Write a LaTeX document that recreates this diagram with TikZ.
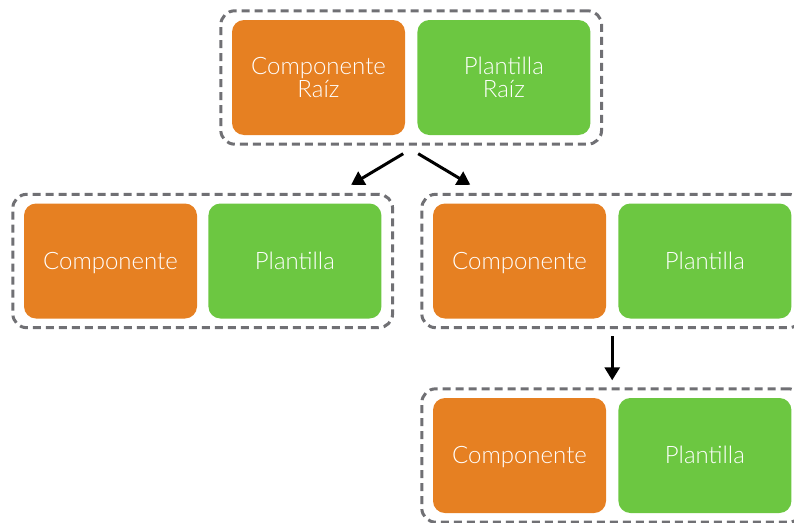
\documentclass[tikz,border=0pt]{standalone}
\usepackage{fontspec}
\setmainfont{Lato}[UprightFont=* Light]
\usetikzlibrary{positioning,fit,calc,arrows.meta}
\definecolor{compOrange}{RGB}{230,128,34}
\definecolor{tplGreen}{RGB}{108,199,65}
\definecolor{groupGray}{RGB}{112,112,116}

\begin{document}
\begin{tikzpicture}[x=1pt, y=-1pt, >={Triangle[length=13pt,width=15pt]},
    comp/.style={rectangle, rounded corners=12pt, fill=compOrange, text=white,
      minimum width=173pt, minimum height=115pt, inner sep=0pt, align=center,
      font=\fontsize{24}{23.5}\selectfont},
    tpl/.style={comp, fill=tplGreen},
    oneline/.style={text height=18pt, text depth=2pt},
    group/.style={draw=groupGray, line width=3pt, dash pattern=on 8pt off 5pt,
      rounded corners=14pt, inner xsep=11pt, inner ysep=9pt},
    link/.style={->, line width=3pt},
    node distance=12pt]
  \useasboundingbox (0,0) rectangle (794,522);

  % root component and its template
  \node[comp] (c0) at (318.5,77.5) {Componente\\Raíz};
  \node[tpl] (t0) [right=of c0] {Plantilla\\Raíz};
  \node[group, fit=(c0)(t0)] (g0) {};

  % children
  \node[comp, oneline] (c1) at (110.5,261) {Componente};
  \node[tpl, oneline] (t1) [right=11pt of c1] {Plantilla};
  \node[group, fit=(c1)(t1)] (g1) {};

  \node[comp, oneline] (c2) at (519.5,261) {Componente};
  \node[tpl, oneline] (t2) [right=of c2] {Plantilla};
  \node[group, fit=(c2)(t2)] (g2) {};

  % grandchild
  \node[comp, oneline] (c3) at (519.5,455.5) {Componente};
  \node[tpl, oneline] (t3) [right=of c3] {Plantilla};
  \node[group, fit=(c3)(t3)] (g3) {};

  \draw[link] ($(g0.south)+(-8,8)$) -- ($(g1.north east)+(-43,-8)$);
  \draw[link] ($(g0.south)+(7,8)$) -- ($(g2.north west)+(50,-8)$);
  \draw[link] ($(g2.south)+(0,7)$) -- ($(g3.north)+(0,-7)$);
\end{tikzpicture}
\end{document}
